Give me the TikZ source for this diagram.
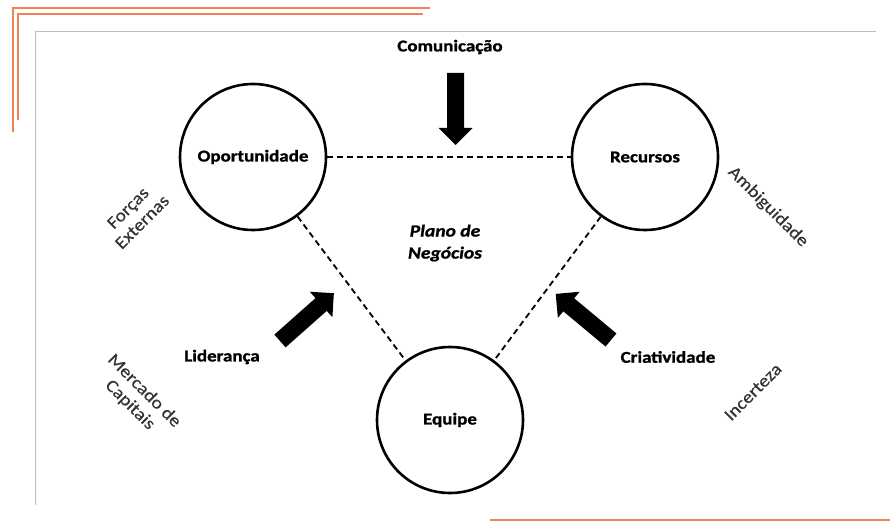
\documentclass[tikz,border=0pt]{standalone}
\usepackage{fontspec}
\setmainfont{Carlito}
\newfontfamily\boldwide[FakeStretch=1.15,FakeBold=1.2]{Carlito Bold}
\newfontfamily\boldital[FakeStretch=1.15,FakeBold=1.2]{Carlito Bold Italic}
\newfontfamily\regwide[FakeStretch=1.12,FakeBold=0.4]{Carlito}
\definecolor{orng}{RGB}{240,130,85}
\definecolor{frame}{RGB}{190,190,190}
\definecolor{graytxt}{RGB}{50,50,50}
\begin{document}
\begin{tikzpicture}[x=1pt,y=-1pt,
  circ/.style={circle,draw=black,line width=2.6pt,minimum size=146pt,inner sep=0pt,
    font=\boldwide\fontsize{16.5}{19}\selectfont},
  blab/.style={font=\boldwide\fontsize{16.5}{19}\selectfont,inner sep=0pt},
  glab/.style={font=\regwide\fontsize{17.5}{20}\selectfont,text=graytxt,align=center,inner sep=0pt},
  link/.style={dashed,dash pattern=on 6pt off 4pt,line width=1.8pt},
  blockarrow/.style={fill=black}]
\useasboundingbox (0,0) rectangle (890,521);
% orange decorative lines
\draw[orng,line width=2pt] (13,132) -- (13,8.5) -- (430,8.5);
\draw[orng,line width=2pt] (17.5,120) -- (17.5,14) -- (423,14);
\draw[orng,line width=2pt] (490,519.5) -- (890,519.5);
% gray frame
\draw[frame,line width=1.2pt] (35.5,505) -- (35.5,31.5) -- (876,31.5);
% circles
\node[circ] (op) at (253,157) {Oportunidade};
\node[circ] (rec) at (645,157) {Recursos};
\node[circ] (eq) at (450,420) {Equipe};
% dashed links
\draw[link] (op) -- (rec);
\draw[link] (op) -- (eq);
\draw[link] (rec) -- (eq);
% labels
\node[blab] (com) at (450,47) {Comunicação};
\node[blab] (lid) at (222,357) {Liderança};
\node[blab] (cri) at (668,357) {Criatividade};
\node[font=\boldital\fontsize{17}{22}\selectfont,align=center,inner sep=0pt] (plano) at (445,243) {Plano de\\Negócios};
% block arrows
\fill[blockarrow,shift={(455.5,73)},rotate=-90]
  (0,-8.5) -- (55,-8.5) -- (55,-17) -- (72,0) -- (55,17) -- (55,8.5) -- (0,8.5) -- cycle;
\fill[blockarrow,shift={(280,341)},rotate=41.6]
  (0,-8.5) -- (55,-8.5) -- (55,-17) -- (72,0) -- (55,17) -- (55,8.5) -- (0,8.5) -- cycle;
\fill[blockarrow,shift={(611,340)},rotate=140.2]
  (0,-8.5) -- (55,-8.5) -- (55,-17) -- (72,0) -- (55,17) -- (55,8.5) -- (0,8.5) -- cycle;
% gray rotated labels
\node[glab,rotate=45] (forcas) at (135,215) {Forças\\Externas};
\node[glab,rotate=-45] (amb) at (768,207) {Ambiguidade};
\node[glab,rotate=-45] (merc) at (137,398) {Mercado de\\Capitais};
\node[glab,rotate=45] (inc) at (753,392) {Incerteza};
\end{tikzpicture}
\end{document}
